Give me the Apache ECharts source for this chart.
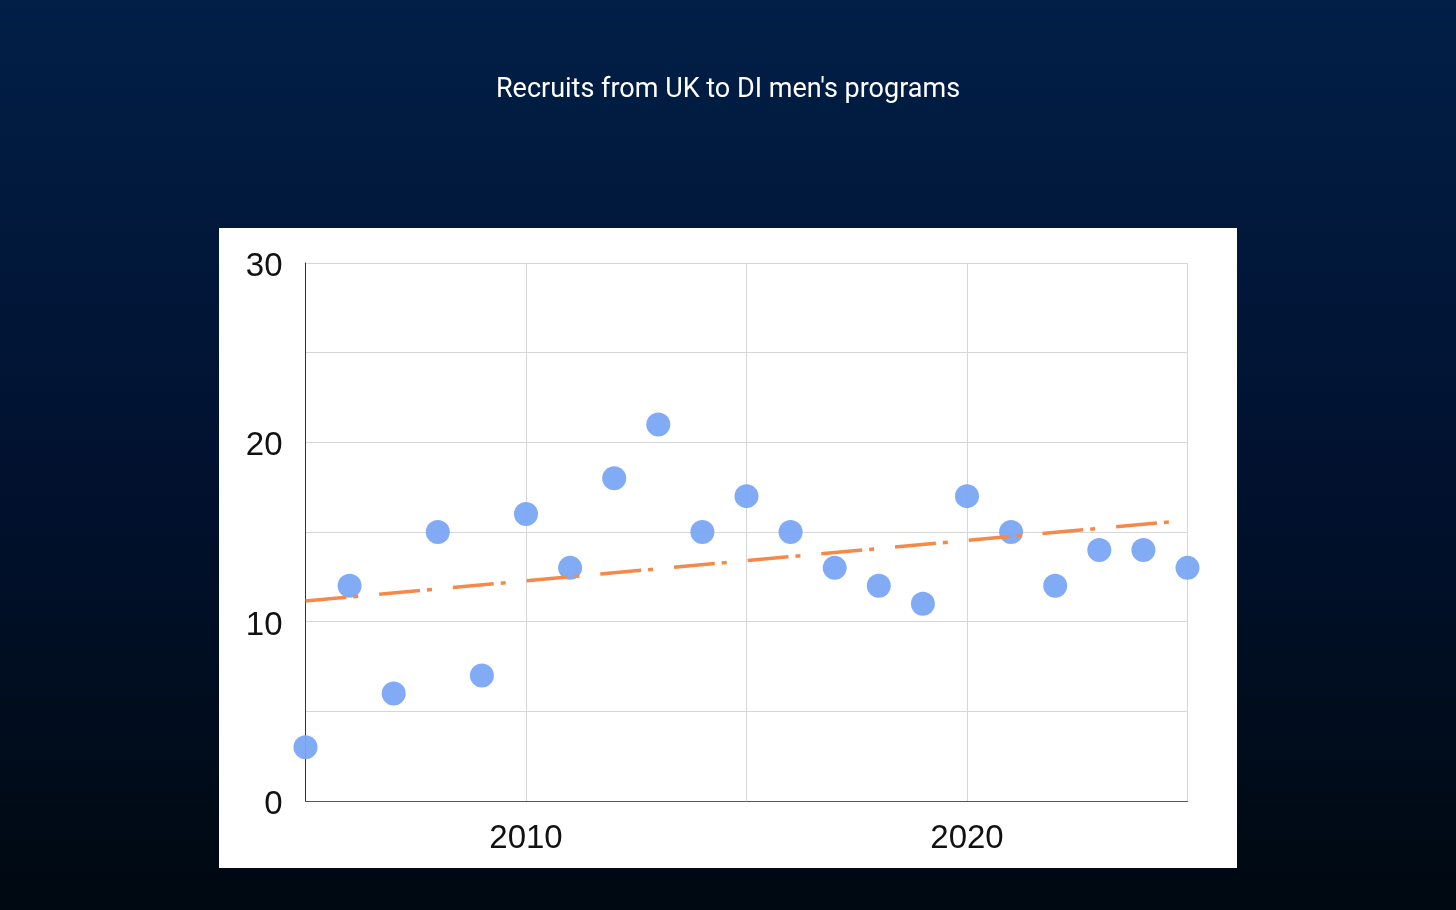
<!DOCTYPE html>
<html>
<head>
<meta charset="utf-8">
<script src="https://cdn.jsdelivr.net/npm/echarts@6/dist/echarts.min.js"></script>
<style>
html,body{margin:0;padding:0;width:1456px;height:910px;overflow:hidden;background:#000a16;}
#chart{width:1456px;height:910px;}
</style>
</head>
<body>
<div id="chart"></div>
<script>
const titleText = "Recruits from UK to DI men's programs";
const years = [2005,2006,2007,2008,2009,2010,2011,2012,2013,2014,2015,2016,2017,2018,2019,2020,2021,2022,2023,2024,2025];
const recruits = [3,12,6,15,7,16,13,18,21,15,17,15,13,12,11,17,15,12,14,14,13];
const trendStart = [2005, 11.15];
const trendEnd = [2024.75, 15.6];
const xLabelYears = [2010, 2020];
const yLabelValues = [0, 10, 20, 30];

const chart = echarts.init(document.getElementById('chart'), null, {renderer:'canvas'});
const points = years.map((y,i)=>[y, recruits[i]]);

chart.setOption({
  animation:false,
  backgroundColor: new echarts.graphic.LinearGradient(0,0,0,1,[
    {offset:0,color:'#011f47'},
    {offset:0.5,color:'#011230'},
    {offset:1,color:'#000911'}
  ]),
  title:{
    text:titleText,
    left:'center',
    top:72,
    textStyle:{color:'#ffffff',fontFamily:'Roboto',fontSize:27,fontWeight:'normal'}
  },
  graphic:[{
    type:'rect',
    z:-10,
    shape:{x:219,y:228,width:1018,height:640},
    style:{fill:'#ffffff'}
  }],
  grid:{left:305.5,right:268.5,top:263,bottom:109},
  xAxis:{
    type:'value',
    min:2005,max:2025,interval:5,
    axisLine:{show:true,lineStyle:{color:'#555555',width:1}},
    axisTick:{show:false},
    splitLine:{show:true,lineStyle:{color:'#d6d6d6',width:1}},
    axisLabel:{
      color:'#111111',fontFamily:'Liberation Sans',fontSize:33,margin:21,
      formatter:v=>xLabelYears.includes(v)?String(v):''
    }
  },
  yAxis:{
    type:'value',
    min:0,max:30,interval:5,
    axisLine:{show:true,lineStyle:{color:'#333333',width:1}},
    axisTick:{show:false},
    splitLine:{show:true,lineStyle:{color:'#d6d6d6',width:1}},
    axisLabel:{
      color:'#111111',fontFamily:'Liberation Sans',fontSize:33,margin:23,
      formatter:v=>yLabelValues.includes(v)?'{a|'+v+'}':'',
      rich:{a:{color:'#111111',fontFamily:'Liberation Sans',fontSize:33,padding:[8,0,0,0]}}
    }
  },
  series:[
    {
      type:'scatter',
      data:points,
      symbolSize:24,
      clip:false,
      itemStyle:{color:'#7ba7f4',opacity:0.95},
      z:2
    },
    {
      type:'line',
      data:[trendStart,trendEnd],
      symbol:'none',
      clip:false,
      lineStyle:{color:'#f5894a',width:3.5,type:[41,7,5,21]},
      z:3
    }
  ]
});
</script>
</body>
</html>
